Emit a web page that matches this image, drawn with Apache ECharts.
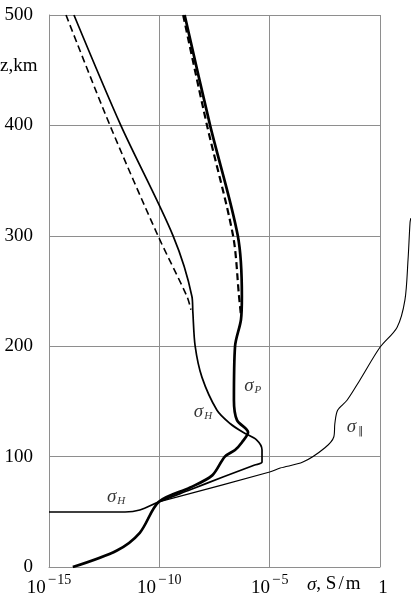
<!DOCTYPE html>
<html>
<head>
<meta charset="utf-8">
<script src="https://cdn.jsdelivr.net/npm/echarts@6/dist/echarts.min.js"></script>
<style>
html, body { margin: 0; padding: 0; background: #fff; }
#chart { width: 411px; height: 599px; }
</style>
</head>
<body>
<div id="chart"></div>
<script>
// [sigma (S/m), z (km)]
var sigmaPSolid = [[1.4e-9,500],[2.0e-8,400],[3.6e-7,300],[5.5e-7,245],[5.0e-7,224],[2.7e-7,200],[2.4e-7,151],[3.3e-7,133],[1.05e-6,122],[5.6e-7,113],[2.7e-7,106],[9.3e-8,100],[2.5e-8,83],[2.5e-9,72],[9.5e-11,59],[1.3e-11,31],[1.2e-12,15],[1.2e-14,0]];
var sigmaPDashed = [[1.2e-9,500],[1.45e-8,400],[2.2e-7,300],[4.1e-7,245],[5.0e-7,228]];
var sigmaHSolid = [[1.35e-14,500],[1.8e-12,400],[4.2e-10,300],[3.0e-9,245],[3.3e-9,231],[4.2e-9,200],[8.5e-9,172],[4.1e-8,142],[1.6e-7,130],[6.2e-7,122],[2.6e-6,115],[4.5e-6,106],[4.5e-6,95],[2.1e-6,92.4],[7.6e-8,81.5],[2.5e-9,70],[9.5e-11,59],[1.3e-11,51.6],[2.8e-12,49.8],[1e-15,49.8]];
var sigmaHDashed = [[5.9e-15,500],[5.8e-13,400],[8.7e-11,300],[1.8e-9,245],[2.7e-9,233]];
var sigmaPar = [[25,316],[23,312],[18.6,278],[13.5,242],[5.9,217],[1.0,199],[0.12,169],[0.032,151],[0.012,142],[0.009,130],[0.0081,118],[0.0032,108],[3.2e-4,95],[3.0e-5,89.7],[1.0e-5,86],[9.5e-11,59]];
// curve labels: [sigma, z, subscript]
var curveLabels = [[1.7e-6,165,'P'],[9.5e-9,142,'H'],[1.1e-12,65,'H'],[0.074,128.6,'\u2016']];
var xTickExponents = [-15, -10, -5, 0];
var yTicks = [0, 100, 200, 300, 400, 500];

var serif = 'Liberation Serif';
var gridColor = '#8e8e8e';
// the parallel conductivity runs past the right frame, up to the page edge
var pxPerDecade = 331 / 15;
var overhangDecades = 31 / pxPerDecade;

var chart = echarts.init(document.getElementById('chart'));

function lineSeries(data, width, dashed, axis) {
    return {
        type: 'line',
        data: data,
        xAxisIndex: axis,
        yAxisIndex: axis,
        showSymbol: false,
        smooth: 0.3,
        silent: true,
        lineStyle: { color: '#000', width: width, type: dashed ? [7, 4] : 'solid' }
    };
}

var option = {
    animation: false,
    backgroundColor: '#fff',
    grid: [
        { left: 49, right: 31, top: 15, bottom: 32 },
        { left: 49, right: 0, top: 15, bottom: 32 }
    ],
    xAxis: [{
        type: 'log',
        logBase: 10,
        min: Math.pow(10, xTickExponents[0]),
        max: Math.pow(10, xTickExponents[xTickExponents.length - 1]),
        interval: 5,
        axisLine: { show: true, lineStyle: { color: gridColor, width: 1 } },
        axisTick: { show: false },
        splitLine: { show: true, lineStyle: { color: gridColor, width: 1 } },
        axisLabel: {
            margin: 6,
            width: 24,
            align: 'center',
            fontFamily: serif,
            color: '#000',
            formatter: function (v) {
                var e = Math.round(Math.log(v) / Math.LN10);
                if (e === 0) return '{one|1}';
                return '{b|10}{m|' + (e < 0 ? '\u2212' : '') + '}{e|' + Math.abs(e) + '}';
            },
            rich: {
                b: { fontFamily: serif, fontSize: 19, lineHeight: 25, color: '#000', verticalAlign: 'bottom' },
                m: { fontFamily: serif, fontSize: 15, lineHeight: 14, color: '#000', verticalAlign: 'top', padding: [0, 1, 0, 2] },
                e: { fontFamily: serif, fontSize: 14, lineHeight: 14, color: '#000', verticalAlign: 'top' },
                one: { fontFamily: serif, fontSize: 19, lineHeight: 25, color: '#000', align: 'center', padding: [0, 0, 0, 6], verticalAlign: 'bottom' }
            }
        }
    }, {
        type: 'log',
        logBase: 10,
        gridIndex: 1,
        show: false,
        min: Math.pow(10, xTickExponents[0]),
        max: Math.pow(10, xTickExponents[xTickExponents.length - 1] + overhangDecades)
    }],
    yAxis: [{
        type: 'value',
        min: yTicks[0],
        max: yTicks[yTicks.length - 1],
        interval: 100,
        axisLine: { show: true, lineStyle: { color: gridColor, width: 1 } },
        axisTick: { show: false },
        splitLine: { show: true, lineStyle: { color: gridColor, width: 1 } },
        axisLabel: { margin: 16, fontFamily: serif, fontSize: 19, color: '#000' }
    }, {
        type: 'value',
        gridIndex: 1,
        show: false,
        min: yTicks[0],
        max: yTicks[yTicks.length - 1]
    }],
    series: [
        lineSeries(sigmaHDashed, 1.6, true, 0),
        lineSeries(sigmaPDashed, 2.2, true, 0),
        lineSeries(sigmaHSolid, 1.7, false, 0),
        lineSeries(sigmaPSolid, 2.7, false, 0),
        lineSeries(sigmaPar, 1.1, false, 1),
        {
            type: 'scatter',
            data: curveLabels,
            symbolSize: 0,
            silent: true,
            label: {
                show: true,
                position: 'inside',
                formatter: function (p) {
                    var sub = p.data[2];
                    return '{s|\u03c3}' + (sub === '\u2016' ? '{par|' : '{sub|') + sub + '}';
                },
                rich: {
                    s: { fontFamily: serif, fontStyle: 'italic', fontSize: 19, lineHeight: 22, color: '#000', verticalAlign: 'bottom' },
                    sub: { fontFamily: serif, fontStyle: 'italic', fontSize: 11, lineHeight: 11, color: '#000', verticalAlign: 'bottom', padding: [0, 0, 0, 1] },
                    par: { fontFamily: 'DejaVu Sans', fontSize: 10, lineHeight: 11, color: '#000', verticalAlign: 'bottom', padding: [0, 0, 0, 2] }
                }
            }
        }
    ],
    graphic: [
        { type: 'text', left: 0, top: 57, style: { text: 'z,km', font: '19px "Liberation Serif"', fill: '#000' } },
        {
            type: 'text', left: 307, top: 575,
            style: {
                text: '{s|\u03c3}, S{sl|/}m',
                font: '19px "Liberation Serif"',
                fill: '#000',
                rich: {
                    s: { fontFamily: serif, fontStyle: 'italic', fontSize: 19 },
                    sl: { fontFamily: serif, fontSize: 19, padding: [0, 2, 0, 2] }
                }
            }
        }
    ]
};

chart.setOption(option);
</script>
</body>
</html>
